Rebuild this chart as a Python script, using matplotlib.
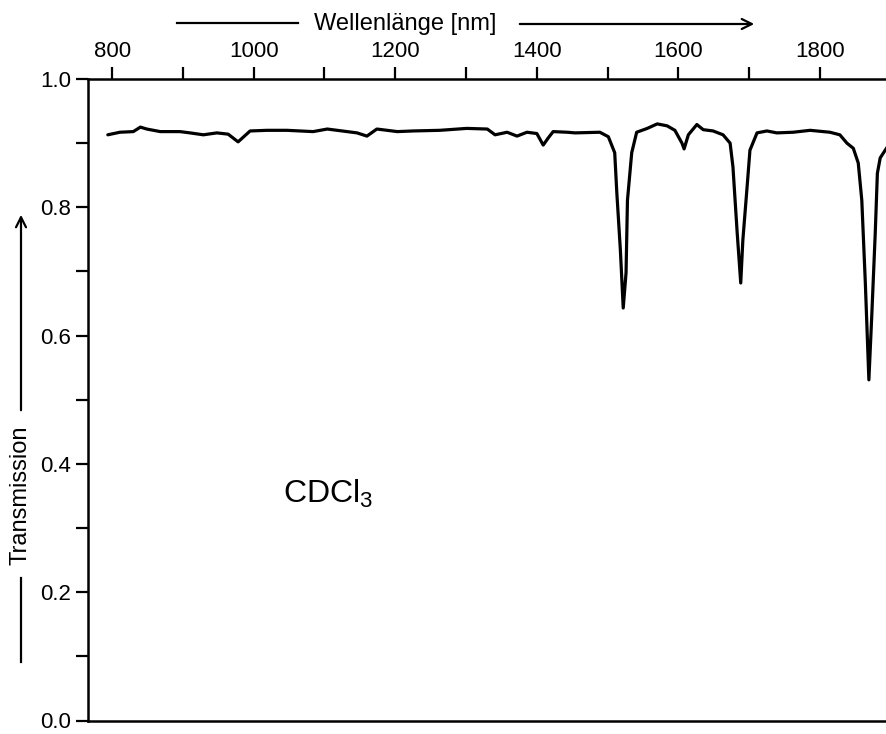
import matplotlib
matplotlib.use("Agg")
import matplotlib.pyplot as plt
from matplotlib.ticker import MultipleLocator

plt.rcParams["font.family"] = ["Liberation Sans", "DejaVu Sans"]
plt.rcParams["mathtext.default"] = "regular"

# Spektrum CDCl3
wavelength = [
    794, 811, 830, 840, 849, 868, 896, 910, 929, 948,
    964, 978, 995, 1019, 1047, 1084, 1104, 1132, 1146, 1160,
    1174, 1203, 1225, 1263, 1301, 1330, 1341, 1358, 1372, 1386,
    1400, 1409, 1416, 1423, 1443, 1454, 1489, 1501, 1510, 1513,
    1518, 1522, 1526, 1528, 1534, 1541, 1556, 1570, 1584, 1595,
    1605, 1608, 1614, 1626, 1635, 1649, 1663, 1673, 1677, 1683,
    1688, 1691, 1697, 1701, 1711, 1725, 1739, 1762, 1786, 1814,
    1828, 1838, 1847, 1854, 1859, 1864, 1869, 1873, 1878, 1881,
    1885, 1895,
]
transmission = [
    0.913, 0.917, 0.918, 0.925, 0.922, 0.918, 0.918, 0.916, 0.913, 0.916,
    0.914, 0.902, 0.919, 0.920, 0.920, 0.918, 0.922, 0.918, 0.916, 0.911,
    0.922, 0.918, 0.919, 0.920, 0.923, 0.922, 0.913, 0.917, 0.911, 0.917,
    0.915, 0.897, 0.908, 0.918, 0.917, 0.916, 0.917, 0.910, 0.885, 0.822,
    0.733, 0.643, 0.698, 0.811, 0.885, 0.917, 0.923, 0.930, 0.927, 0.920,
    0.900, 0.891, 0.913, 0.929, 0.921, 0.919, 0.913, 0.900, 0.863, 0.760,
    0.682, 0.749, 0.832, 0.889, 0.916, 0.919, 0.916, 0.917, 0.920, 0.917,
    0.913, 0.900, 0.892, 0.869, 0.811, 0.682, 0.531, 0.629, 0.760, 0.853,
    0.877, 0.894,
]
x_ticks = [800, 1000, 1200, 1400, 1600, 1800]
y_ticks = [0.0, 0.2, 0.4, 0.6, 0.8, 1.0]
y_labels = ["0.0", "0.2", "0.4", "0.6", "0.8", "1.0"]

fig = plt.figure(figsize=(8.87, 7.34), dpi=100)
ax = fig.add_axes([88 / 887, 13.5 / 734, 799 / 887, 641.5 / 734])

ax.plot(wavelength, transmission, color="black", linewidth=2.3,
        solid_joinstyle="round", solid_capstyle="round")

ax.set_xlim(766, 1894.6)
ax.set_ylim(0.0, 1.0)

ax.spines["right"].set_visible(False)
for side in ("left", "top", "bottom"):
    ax.spines[side].set_linewidth(1.8)

ax.xaxis.tick_top()
ax.set_xticks(x_ticks)
ax.xaxis.set_minor_locator(MultipleLocator(100))
ax.set_yticks(y_ticks)
ax.set_yticklabels(y_labels)
ax.yaxis.set_minor_locator(MultipleLocator(0.1))
ax.tick_params(axis="both", which="both", direction="out", length=9,
               width=1.6, labelsize=16, pad=3)
ax.tick_params(axis="x", which="both", bottom=False, top=True)

ax.text(1041, 0.339, "CDCl$_3$", fontsize=23, ha="left", va="baseline")

# Achsentitel mit Pfeilen
fig.text(405 / 887, 1 - 24 / 734, "Wellenlänge [nm]", fontsize=17,
         ha="center", va="center")
fig.add_artist(plt.Line2D([177 / 887, 298 / 887], [1 - 23 / 734] * 2,
                          color="black", linewidth=1.6))
ax.annotate("", xy=(757 / 887, 1 - 24 / 734), xytext=(517 / 887, 1 - 24 / 734),
            xycoords="figure fraction", textcoords="figure fraction",
            arrowprops=dict(arrowstyle="->", color="black", lw=1.6,
                            mutation_scale=18))

fig.text(21 / 887, 1 - 495 / 734, "Transmission", fontsize=17, rotation=90,
         ha="center", va="center")
fig.add_artist(plt.Line2D([21 / 887] * 2, [1 - 578 / 734, 1 - 662 / 734],
                          color="black", linewidth=1.6))
ax.annotate("", xy=(21 / 887, 1 - 212 / 734), xytext=(21 / 887, 1 - 413 / 734),
            xycoords="figure fraction", textcoords="figure fraction",
            arrowprops=dict(arrowstyle="->", color="black", lw=1.6,
                            mutation_scale=18))

fig.savefig("out.png", dpi=100)
